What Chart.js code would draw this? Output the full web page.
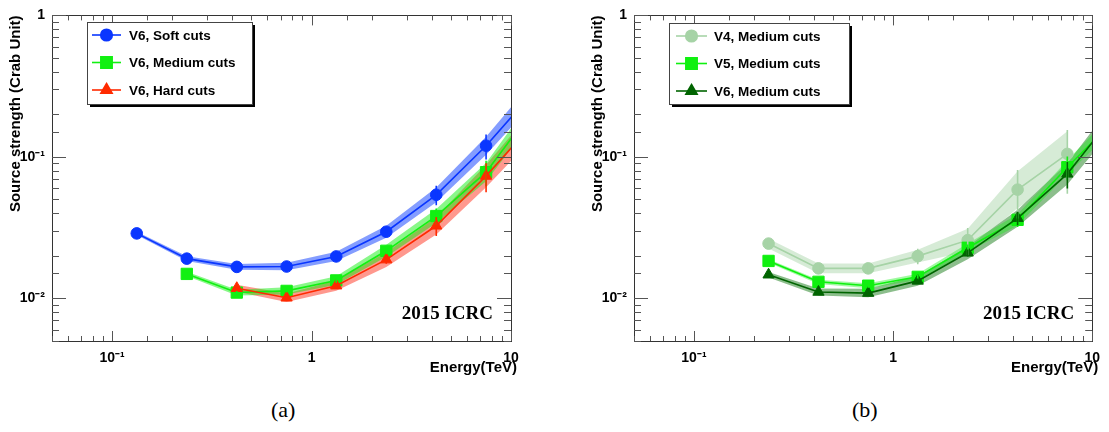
<!DOCTYPE html>
<html>
<head>
<meta charset="utf-8">
<script src="https://cdn.jsdelivr.net/npm/chart.js@4.4.0/dist/chart.umd.min.js"></script>
<style>
  body { margin: 0; background: #fff; width: 1109px; height: 432px; position: relative; overflow: hidden; }
  canvas { position: absolute; top: 0; }
  #left { left: 0; }
  #right { left: 580px; }
  .cap { position: absolute; top: 397px; font: 22px "Liberation Serif", serif; color: #000; }
</style>
</head>
<body>
<canvas id="left" width="555" height="395" style="width:555px;height:395px"></canvas>
<canvas id="right" width="529" height="395" style="width:529px;height:395px"></canvas>
<div class="cap" style="left:271px">(a)</div>
<div class="cap" style="left:852px">(b)</div>
<script>
// energy bins (TeV), shared by all curves
const ENERGY = [0.133, 0.237, 0.422, 0.75, 1.33, 2.37, 4.22, 7.5, 13.3];

// panel (a): V6 with different cuts
const softCuts   = [0.0288, 0.0191, 0.0167, 0.0168, 0.0198, 0.0296, 0.054, 0.120, 0.30];
const softErr    = [0.0006, 0.0005, 0.0004, 0.0004, 0.0006, 0.0012, 0.0085, 0.024, 0.06];
const softBand   = [0.012, 0.016, 0.02, 0.026, 0.033, 0.042, 0.052, 0.064, 0.08];

const mediumCuts = [null, 0.0149, 0.0110, 0.0113, 0.0134, 0.0217, 0.0382, 0.078, 0.23];
const mediumErr  = [null, 0.0004, 0.0003, 0.0003, 0.0005, 0.0012, 0.005, 0.016, 0.05];
const mediumBand = [null, 0.015, 0.02, 0.025, 0.03, 0.042, 0.05, 0.065, 0.08];

const hardCuts   = [null, null, 0.0118, 0.0101, 0.0123, 0.0188, 0.0326, 0.0733, 0.18];
const hardErr    = [null, null, 0.0004, 0.0003, 0.0005, 0.0012, 0.005, 0.017, 0.05];
const hardBand   = [null, null, 0.025, 0.03, 0.036, 0.052, 0.062, 0.08, 0.1];

// panel (b): medium cuts, different versions
const v4Medium = [null, 0.0244, 0.0163, 0.0163, 0.0199, 0.0258, 0.0587, 0.105, null];
const v4Err    = [null, 0.0012, 0.0010, 0.0012, 0.0025, 0.0056, 0.022, 0.05, null];
const v4Band   = [null, 0.035, 0.035, 0.035, 0.045, 0.08, 0.13, 0.16, null];

const v5Medium = [null, 0.0184, 0.0131, 0.0123, 0.0142, 0.0228, 0.0359, 0.0845, 0.19];
const v5Err    = [null, 0.0005, 0.0004, 0.0004, 0.0006, 0.0012, 0.004, 0.016, 0.04];
const v5Band   = [null, 0.012, 0.015, 0.018, 0.022, 0.03, 0.04, 0.05, 0.06];

const v6Medium = [null, 0.0147, 0.0111, 0.0109, 0.0133, 0.0210, 0.0369, 0.0759, 0.21];
const v6Err    = [null, 0.0004, 0.0003, 0.0003, 0.0005, 0.0012, 0.004, 0.016, 0.04];
const v6Band   = [null, 0.02, 0.025, 0.03, 0.035, 0.045, 0.06, 0.075, 0.09];

const SUP = { '-1': '\u207B\u00B9', '-2': '\u207B\u00B2' };
const BOLD = '"Liberation Sans", Arial, sans-serif';

function decadeLabel(v) {
  const e = Math.log10(v);
  if (Math.abs(e - Math.round(e)) > 1e-6) return '';
  const k = Math.round(e);
  if (k === 0) return '1';
  if (k === 1) return '10';
  return '10' + SUP[k];
}

function points(values, shift) {
  const out = [];
  values.forEach((v, i) => {
    if (v == null) return;
    const d = shift ? shift[i] : 0;
    out.push({ x: ENERGY[i], y: v * Math.pow(10, d) });
  });
  return out;
}

function buildDatasets(series) {
  const sets = [];
  series.forEach((s, k) => {
    const neg = s.band.map(b => b == null ? null : -b);
    sets.push({
      data: points(s.values, s.band), borderWidth: 0, pointRadius: 0,
      fill: false, order: 20 + k,
    });
    sets.push({
      data: points(s.values, neg), borderWidth: 0, pointRadius: 0,
      fill: '-1', backgroundColor: s.bandColor, order: 20 + k,
    });
  });
  series.forEach((s, k) => {
    sets.push({
      data: points(s.values), borderColor: s.color, backgroundColor: s.color,
      pointBackgroundColor: s.color, pointBorderColor: s.color,
      pointStyle: s.pointStyle, pointRadius: s.radius, pointBorderWidth: 1,
      borderWidth: 1.6, fill: false, order: 10 - k,
    });
  });
  return sets;
}

function drawTicks(ctx, area, scale, horizontal, majorLen, minorLen) {
  scale.ticks.forEach(t => {
    const v = t.value;
    const e = Math.log10(v);
    const major = Math.abs(e - Math.round(e)) < 1e-6;
    const len = major ? majorLen : minorLen;
    const p = Math.round(scale.getPixelForValue(v)) + 0.5;
    ctx.beginPath();
    if (horizontal) {
      ctx.moveTo(p, area.bottom); ctx.lineTo(p, area.bottom - len);
      ctx.moveTo(p, area.top); ctx.lineTo(p, area.top + len);
    } else {
      ctx.moveTo(area.left, p); ctx.lineTo(area.left + len, p);
      ctx.moveTo(area.right, p); ctx.lineTo(area.right - len, p);
    }
    ctx.stroke();
  });
}

const decorPlugin = {
  id: 'decor',
  afterDatasetsDraw(chart) {
    const cfg = chart.options.plugins.decor;
    const ctx = chart.ctx, area = chart.chartArea;
    const xs = chart.scales.x, ys = chart.scales.y;
    ctx.save();
    ctx.beginPath();
    ctx.rect(area.left, area.top, area.right - area.left, area.bottom - area.top);
    ctx.clip();
    cfg.series.forEach(s => {
      ctx.strokeStyle = s.color;
      ctx.lineWidth = 1.6;
      s.values.forEach((v, i) => {
        if (v == null || s.err[i] == null) return;
        const x = xs.getPixelForValue(ENERGY[i]);
        ctx.beginPath();
        ctx.moveTo(x, ys.getPixelForValue(v + s.err[i]));
        ctx.lineTo(x, ys.getPixelForValue(v - s.err[i]));
        ctx.stroke();
      });
    });
    ctx.restore();
  },
  afterDraw(chart) {
    const cfg = chart.options.plugins.decor;
    const ctx = chart.ctx, area = chart.chartArea;
    ctx.save();
    // frame and inward ticks
    ctx.strokeStyle = '#333';
    ctx.lineWidth = 1;
    ctx.strokeRect(Math.round(area.left) + 0.5, Math.round(area.top) + 0.5,
      Math.round(area.right - area.left), Math.round(area.bottom - area.top));
    ctx.strokeStyle = '#555';
    drawTicks(ctx, area, chart.scales.x, true, 10, 5);
    drawTicks(ctx, area, chart.scales.y, false, 14, 7);

    // legend
    const L = cfg.legend;
    ctx.fillStyle = '#000';
    ctx.fillRect(L.x + 3, L.y + 3, L.w, L.h);
    ctx.fillStyle = '#fff';
    ctx.fillRect(L.x, L.y, L.w, L.h);
    ctx.strokeStyle = '#444';
    ctx.strokeRect(L.x + 0.5, L.y + 0.5, L.w, L.h);
    ctx.font = 'bold 13.5px ' + BOLD;
    ctx.textBaseline = 'middle';
    ctx.textAlign = 'left';
    cfg.series.forEach((s, k) => {
      const y = L.rows[k];
      ctx.strokeStyle = s.color;
      ctx.fillStyle = s.color;
      ctx.lineWidth = 1.6;
      ctx.beginPath();
      ctx.moveTo(L.x0, y); ctx.lineTo(L.x1, y);
      ctx.stroke();
      Chart.helpers.drawPoint(ctx, { pointStyle: s.pointStyle, radius: s.radius, rotation: 0, borderWidth: 1 },
        (L.x0 + L.x1) / 2, y);
      ctx.fillStyle = '#000';
      ctx.fillText(s.label, L.tx, y + 1);
    });

    // conference tag
    ctx.fillStyle = '#000';
    ctx.font = 'bold 19px "Liberation Serif", "Times New Roman", serif';
    ctx.textAlign = 'right';
    ctx.textBaseline = 'alphabetic';
    ctx.fillText('2015 ICRC', area.right - 18, 319);

    // axis titles
    ctx.font = 'bold 15px ' + BOLD;
    ctx.textBaseline = 'middle';
    ctx.textAlign = 'right';
    ctx.fillText('Energy(TeV)', area.right + 6, 368);
    ctx.translate(area.left - 36, area.top);
    ctx.rotate(-Math.PI / 2);
    ctx.fillText('Source strength (Crab Unit)', 0, 0);
    ctx.restore();
  },
};

function makePanel(id, series, yAxisWidth, padRight, legend) {
  const tickFont = { family: BOLD, weight: 'bold', size: 14 };
  new Chart(document.getElementById(id), {
    type: 'line',
    data: { datasets: buildDatasets(series) },
    options: {
      responsive: false,
      animation: false,
      events: [],
      layout: { padding: { top: 10, right: padRight, left: 0, bottom: 0 } },
      plugins: {
        legend: { display: false },
        tooltip: { enabled: false },
        decor: { series, legend },
      },
      scales: {
        x: {
          type: 'logarithmic', min: 0.05, max: 10,
          grid: { display: false, drawTicks: false }, border: { display: false },
          ticks: { autoSkip: false, maxRotation: 0, padding: 9, color: '#000', font: tickFont,
            callback: v => decadeLabel(v) },
          afterFit: s => { s.height = 54; },
        },
        y: {
          type: 'logarithmic', min: 0.005, max: 1,
          grid: { display: false, drawTicks: false }, border: { display: false },
          ticks: { autoSkip: false, padding: 7, color: '#000', font: tickFont,
            callback: v => decadeLabel(v) },
          afterFit: s => { s.width = yAxisWidth; },
        },
      },
    },
    plugins: [decorPlugin],
  });
}

makePanel('left', [
  { label: 'V6, Soft cuts', values: softCuts, err: softErr, band: softBand,
    color: '#0a36ff', bandColor: 'rgba(10,60,255,0.5)', pointStyle: 'circle', radius: 5.8 },
  { label: 'V6, Medium cuts', values: mediumCuts, err: mediumErr, band: mediumBand,
    color: '#12f012', bandColor: 'rgba(20,240,20,0.5)', pointStyle: 'rect', radius: 8 },
  { label: 'V6, Hard cuts', values: hardCuts, err: hardErr, band: hardBand,
    color: '#ff2a00', bandColor: 'rgba(255,50,30,0.5)', pointStyle: 'triangle', radius: 6.5 },
], 52, 44, { x: 87, y: 22, w: 165, h: 82, x0: 92, x1: 121, tx: 129, rows: [35, 62.5, 90] });

makePanel('right', [
  { label: 'V4, Medium cuts', values: v4Medium, err: v4Err, band: v4Band,
    color: '#a6d3a6', bandColor: 'rgba(120,190,120,0.3)', pointStyle: 'circle', radius: 5.8 },
  { label: 'V5, Medium cuts', values: v5Medium, err: v5Err, band: v5Band,
    color: '#10f010', bandColor: 'rgba(20,240,20,0.4)', pointStyle: 'rect', radius: 8 },
  { label: 'V6, Medium cuts', values: v6Medium, err: v6Err, band: v6Band,
    color: '#006400', bandColor: 'rgba(0,110,0,0.45)', pointStyle: 'triangle', radius: 6.5 },
], 54, 15, { x: 89, y: 23, w: 180, h: 81, x0: 96, x1: 127, tx: 134, rows: [36, 63.5, 91] });
</script>
</body>
</html>
